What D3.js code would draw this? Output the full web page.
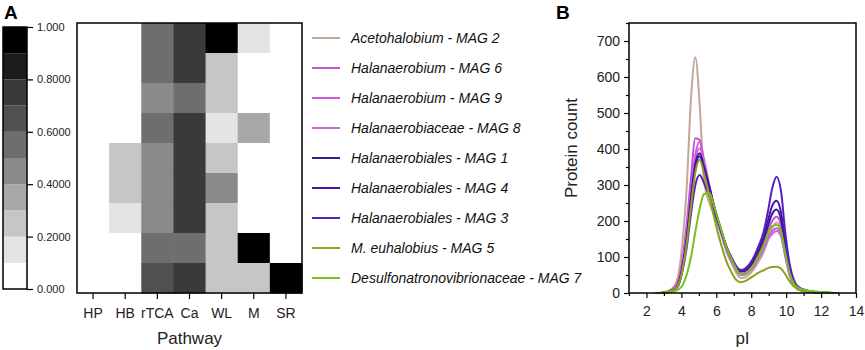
<!DOCTYPE html>
<html>
<head>
<meta charset="utf-8">
<script src="https://cdn.jsdelivr.net/npm/d3@7"></script>
<style>
  body { margin: 0; background: #fff; }
  svg { display: block; font-family: "Liberation Sans", Arial, sans-serif; }
</style>
</head>
<body>
<div id="chart"></div>
<script>
// Panel A: pathway completeness heatmap
const pathways = ["HP", "HB", "rTCA", "Ca", "WL", "M", "SR"];
const magNames = [
  "Acetohalobium - MAG 2",
  "Halanaerobium - MAG 6",
  "Halanaerobium - MAG 9",
  "Halanaerobiaceae - MAG 8",
  "Halanaerobiales - MAG 1",
  "Halanaerobiales - MAG 4",
  "Halanaerobiales - MAG 3",
  "M. euhalobius - MAG 5",
  "Desulfonatronovibrionaceae - MAG 7"
];
const heatValues = [
  [0, 0, 0.55, 0.75, 0.95, 0.15, 0],
  [0, 0, 0.55, 0.75, 0.25, 0, 0],
  [0, 0, 0.45, 0.55, 0.25, 0, 0],
  [0, 0, 0.55, 0.75, 0.15, 0.35, 0],
  [0, 0.25, 0.45, 0.75, 0.25, 0, 0],
  [0, 0.25, 0.45, 0.75, 0.45, 0, 0],
  [0, 0.15, 0.45, 0.75, 0.25, 0, 0],
  [0, 0, 0.55, 0.55, 0.25, 0.95, 0],
  [0, 0, 0.65, 0.75, 0.25, 0.25, 0.95]
];
const grayBands = ["#ffffff", "#e4e4e4", "#c6c6c6", "#a8a8a8", "#8a8a8a",
                   "#6e6e6e", "#505050", "#3a3a3a", "#1c1c1c", "#000000"];
const colorbarTicks = [0, 0.2, 0.4, 0.6, 0.8, 1];
const colorbarLabels = ["0.000", "0.2000", "0.4000", "0.6000", "0.8000", "1.000"];

// Panel B: pI distributions
const pI = [2.5, 3, 3.5, 3.8, 4.05, 4.3, 4.55, 4.8, 5.05, 5.3, 5.6, 5.85, 6.1, 6.35, 6.6, 6.9, 7.15, 7.4,
            7.65, 7.9, 8.15, 8.4, 8.7, 8.95, 9.2, 9.45, 9.7, 9.95, 10.2, 10.45, 10.7, 11.2, 11.7, 12.2, 12.7, 13];
const mag2 = [0, 2, 14, 45, 135, 290, 540, 655, 520, 310, 250, 220, 188, 150, 112, 80, 55, 42, 43, 52, 66, 86, 112, 145, 180, 196, 178, 110, 52, 22, 10, 4, 2, 1, 0, 0];
const mag6 = [0, 1, 10, 30, 90, 190, 320, 430, 425, 360, 295, 245, 200, 160, 122, 90, 66, 54, 56, 66, 82, 105, 135, 170, 200, 212, 190, 120, 58, 26, 12, 5, 2, 1, 0, 0];
const mag9 = [0, 1, 9, 26, 78, 165, 285, 385, 420, 370, 300, 245, 198, 158, 120, 88, 64, 52, 53, 62, 77, 98, 125, 155, 172, 180, 165, 105, 50, 22, 10, 4, 2, 1, 0, 0];
const mag8 = [0, 1, 8, 24, 72, 155, 270, 370, 402, 360, 295, 240, 195, 155, 118, 86, 62, 50, 51, 60, 74, 94, 120, 148, 164, 172, 158, 100, 48, 21, 9, 4, 2, 1, 0, 0];
const mag1 = [0, 1, 7, 22, 70, 150, 265, 360, 388, 350, 295, 245, 202, 163, 125, 93, 70, 60, 62, 72, 88, 112, 145, 185, 220, 232, 205, 130, 62, 28, 13, 5, 2, 1, 0, 0];
const mag4 = [0, 1, 7, 21, 66, 145, 255, 350, 380, 345, 292, 245, 203, 164, 127, 95, 72, 62, 65, 76, 93, 118, 155, 200, 242, 256, 225, 142, 68, 30, 14, 6, 2, 1, 0, 0];
const mag3 = [0, 1, 6, 18, 58, 125, 220, 300, 328, 305, 270, 232, 196, 160, 126, 96, 74, 64, 68, 80, 100, 128, 168, 225, 290, 323, 285, 168, 80, 35, 17, 7, 3, 1, 0, 0];
const mag5 = [0, 1, 7, 20, 62, 135, 240, 335, 370, 330, 270, 215, 165, 122, 85, 55, 36, 30, 33, 40, 48, 56, 63, 69, 72, 73, 68, 52, 32, 18, 10, 5, 3, 1, 0, 0];
const mag7 = [0, 1, 4, 9, 20, 50, 100, 170, 235, 275, 278, 245, 205, 165, 125, 92, 66, 52, 54, 64, 80, 102, 132, 165, 185, 189, 172, 112, 55, 26, 14, 7, 4, 2, 1, 0];
const curveSeries = [mag2, mag6, mag9, mag8, mag1, mag4, mag3, mag5, mag7];
const curveColors = ["#c4a896", "#c84fd8", "#cc5adc", "#d066de", "#3a1a96",
                     "#4a12a8", "#5620c0", "#8ca21c", "#78c01a"];
const yTicks = [0, 100, 200, 300, 400, 500, 600, 700];
const xTicks = [2, 4, 6, 8, 10, 12, 14];

const W = 865, H = 350;
const svg = d3.select("#chart").append("svg").attr("width", W).attr("height", H);

// ---------- Panel A ----------
svg.append("text").attr("x", 4).attr("y", 19)
  .attr("font-size", 19).attr("font-weight", "bold").text("A");

// colorbar
const cb = { x: 3, w: 24, top: 27, bottom: 289 };
const cbScale = d3.scaleLinear().domain([0, 1]).range([cb.bottom, cb.top]);
const bandStarts = d3.range(10).map(i => i / 10);
svg.append("g").selectAll("rect").data(bandStarts).join("rect")
  .attr("x", cb.x)
  .attr("y", d => cbScale(d + 0.1))
  .attr("width", cb.w)
  .attr("height", d => cbScale(d) - cbScale(d + 0.1))
  .attr("fill", (d, i) => grayBands[i]);
svg.append("rect")
  .attr("x", cb.x).attr("y", cb.top)
  .attr("width", cb.w).attr("height", cb.bottom - cb.top)
  .attr("fill", "none").attr("stroke", "#000").attr("stroke-width", 1.5);
const cbAxis = svg.append("g")
  .attr("transform", `translate(${cb.x + cb.w},0)`)
  .call(d3.axisRight(cbScale).tickValues(colorbarTicks)
    .tickFormat((d, i) => colorbarLabels[i]).tickSize(6).tickPadding(4));
cbAxis.select(".domain").remove();
cbAxis.selectAll("line").attr("stroke-width", 1.2);
cbAxis.selectAll("text").attr("font-size", 11).attr("font-family", "Liberation Sans, Arial, sans-serif").attr("fill", "#222");

// heatmap
const hm = { left: 77, right: 302, top: 23, bottom: 293 };
const xHeat = d3.scaleBand().domain(pathways).range([hm.left, hm.right]);
const yHeat = d3.scaleBand().domain(magNames).range([hm.top, hm.bottom]);
const colorHeat = d3.scaleThreshold()
  .domain(d3.range(1, 10).map(i => i / 10))
  .range(grayBands);

const cells = [];
heatValues.forEach((row, r) => row.forEach((v, c) => {
  cells.push({ mag: magNames[r], path: pathways[c], v });
}));
svg.append("g").selectAll("rect").data(cells).join("rect")
  .attr("x", d => xHeat(d.path))
  .attr("y", d => yHeat(d.mag))
  .attr("width", xHeat.bandwidth() + 0.5)
  .attr("height", yHeat.bandwidth() + 0.5)
  .attr("fill", d => colorHeat(d.v));
svg.append("rect")
  .attr("x", hm.left).attr("y", hm.top)
  .attr("width", hm.right - hm.left).attr("height", hm.bottom - hm.top)
  .attr("fill", "none").attr("stroke", "#000").attr("stroke-width", 1.5);

const xHeatAxis = svg.append("g")
  .attr("transform", `translate(0,${hm.bottom})`)
  .call(d3.axisBottom(xHeat).tickSize(6).tickPadding(9));
xHeatAxis.select(".domain").remove();
xHeatAxis.selectAll("line").attr("stroke-width", 1.2);
xHeatAxis.selectAll("text").attr("font-size", 14).attr("font-family", "Liberation Sans, Arial, sans-serif").attr("fill", "#222");

svg.append("text")
  .attr("x", (hm.left + hm.right) / 2).attr("y", 344)
  .attr("text-anchor", "middle").attr("font-size", 17).attr("fill", "#222")
  .text("Pathway");

// legend
const yLegend = d3.scalePoint().domain(magNames).range([38, 278]);
const legend = svg.append("g").selectAll("g").data(magNames).join("g")
  .attr("transform", d => `translate(0,${yLegend(d)})`);
legend.append("line")
  .attr("x1", 312).attr("x2", 340)
  .attr("stroke", (d, i) => curveColors[i]).attr("stroke-width", 2);
legend.append("text")
  .attr("x", 351).attr("y", 5)
  .attr("font-size", 14).attr("font-style", "italic").attr("fill", "#111")
  .text(d => d);

// ---------- Panel B ----------
svg.append("text").attr("x", 556).attr("y", 19)
  .attr("font-size", 19).attr("font-weight", "bold").text("B");

const pb = { left: 629, right: 856, top: 23, bottom: 293 };
const x = d3.scaleLinear().domain([1, 14]).range([pb.left, pb.right]);
const y = d3.scaleLinear().domain([0, 750]).range([pb.bottom, pb.top]);

const line = d3.line()
  .x((d, i) => x(pI[i]))
  .y(d => y(d))
  .curve(d3.curveMonotoneX);

svg.append("g").selectAll("path").data(curveSeries).join("path")
  .attr("d", d => line(d))
  .attr("fill", "none")
  .attr("stroke", (d, i) => curveColors[i])
  .attr("stroke-width", 2);

svg.append("rect")
  .attr("x", pb.left).attr("y", pb.top)
  .attr("width", pb.right - pb.left).attr("height", pb.bottom - pb.top)
  .attr("fill", "none").attr("stroke", "#000").attr("stroke-width", 1.5);

const yAxis = svg.append("g").attr("transform", `translate(${pb.left},0)`)
  .call(d3.axisLeft(y).tickValues(yTicks).tickSize(5).tickPadding(4));
const yMinor = svg.append("g").attr("transform", `translate(${pb.left},0)`)
  .call(d3.axisLeft(y).tickValues(d3.range(50, 751, 100)).tickSize(3).tickFormat(""));
const xAxis = svg.append("g").attr("transform", `translate(0,${pb.bottom})`)
  .call(d3.axisBottom(x).tickValues(xTicks).tickSize(5).tickPadding(8));
const xMinor = svg.append("g").attr("transform", `translate(0,${pb.bottom})`)
  .call(d3.axisBottom(x).tickValues(d3.range(1, 14, 2)).tickSize(3).tickFormat(""));
[yAxis, yMinor, xAxis, xMinor].forEach(g => {
  g.select(".domain").remove();
  g.selectAll("line").attr("stroke-width", 1.2);
  g.selectAll("text").attr("font-size", 14).attr("font-family", "Liberation Sans, Arial, sans-serif").attr("fill", "#222");
});

svg.append("text")
  .attr("transform", `translate(577,${(pb.top + pb.bottom) / 2 - 10}) rotate(-90)`)
  .attr("text-anchor", "middle").attr("font-size", 17).attr("fill", "#222")
  .text("Protein count");
svg.append("text")
  .attr("x", x(7.5)).attr("y", 344)
  .attr("text-anchor", "middle").attr("font-size", 17).attr("fill", "#222")
  .text("pI");
</script>
</body>
</html>
